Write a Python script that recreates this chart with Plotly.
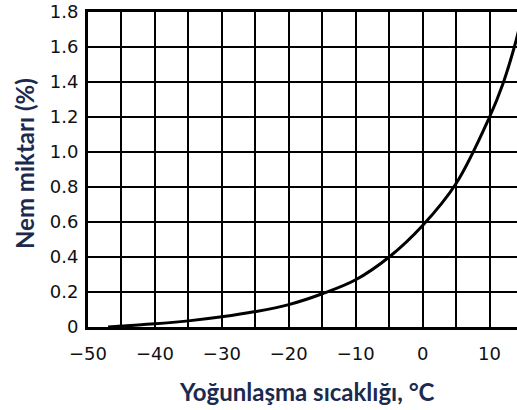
import plotly.graph_objects as go

# Dew point temperature (°C) and moisture content (%)
dew_point = [-47, -45, -40, -35, -30, -25, -20, -15, -10, -5, 0, 5, 10, 12, 13.7, 14.5]
moisture = [0.0, 0.006, 0.018, 0.035, 0.058, 0.088, 0.128, 0.19, 0.27, 0.40, 0.58, 0.82, 1.2, 1.39, 1.6, 1.72]

x_ticks = [-50, -45, -40, -35, -30, -25, -20, -15, -10, -5, 0, 5, 10]
x_labels = ["−50", "", "−40", "", "−30", "", "−20", "", "−10", "", "0", "", "10"]
y_ticks = [0, 0.2, 0.4, 0.6, 0.8, 1.0, 1.2, 1.4, 1.6, 1.8]
y_labels = ["0", "0.2", "0.4", "0.6", "0.8", "1.0", "1.2", "1.4", "1.6", "1.8"]

W, H = 517, 410
M = dict(l=88, r=0, t=12, b=83)

title_color = "#1b2a4e"
tick_font = dict(family="DejaVu Sans, sans-serif", size=18, color="#111111")
title_font = dict(family="Lato, Open Sans, sans-serif", size=24, color=title_color, weight="bold")

fig = go.Figure()
fig.add_trace(go.Scatter(
    x=dew_point, y=moisture, mode="lines",
    line=dict(color="#000000", width=3, shape="spline", smoothing=1.0),
    hoverinfo="skip", showlegend=False,
))

# axis titles placed in paper coordinates (pixel positions converted)
plot_w = W - M["l"] - M["r"]
plot_h = H - M["t"] - M["b"]


def px_x(px):
    return (px - M["l"]) / plot_w


def px_y(py):
    return (H - M["b"] - py) / plot_h


fig.add_annotation(
    text="Yoğunlaşma sıcaklığı, °C", xref="paper", yref="paper",
    x=px_x(307), y=px_y(391), xanchor="center", yanchor="middle",
    showarrow=False, font=title_font,
)
fig.add_annotation(
    text="Nem miktarı (%)", xref="paper", yref="paper",
    x=px_x(25), y=px_y(164), xanchor="center", yanchor="middle",
    textangle=-90, showarrow=False, font=title_font,
)

fig.update_layout(
    width=W, height=H,
    margin=M,
    paper_bgcolor="white", plot_bgcolor="white",
    xaxis=dict(
        range=[-50, 14.1],
        tickvals=x_ticks, ticktext=x_labels,
        showgrid=True, gridcolor="#000000", gridwidth=2,
        showline=True, linecolor="#000000", linewidth=3, mirror=True,
        zeroline=False, ticks="", tickfont=tick_font, ticklabelstandoff=8,
    ),
    yaxis=dict(
        range=[0, 1.8],
        tickvals=y_ticks, ticktext=y_labels,
        showgrid=True, gridcolor="#000000", gridwidth=2,
        showline=True, linecolor="#000000", linewidth=3,
        zeroline=False, ticks="", tickfont=tick_font, ticklabelstandoff=3,
    ),
)

fig.write_html("out.html")
